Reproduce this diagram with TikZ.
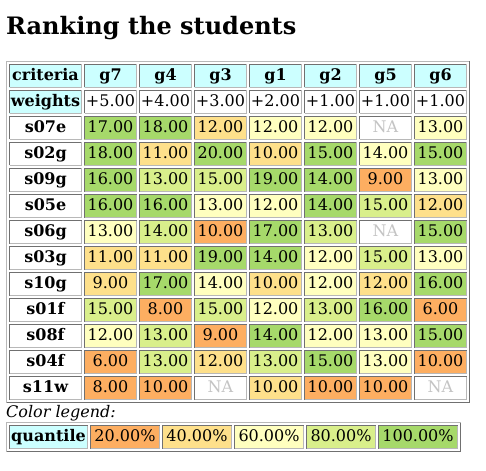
\documentclass[tikz,border=0pt]{standalone}
\usepackage{fontspec}
\setmainfont{DejaVu Serif}
\definecolor{rank-orange}{RGB}{253, 174, 97}
\definecolor{rank-sand}{RGB}{254, 224, 139}
\definecolor{rank-cream}{RGB}{255, 255, 191}
\definecolor{rank-lime}{RGB}{217, 239, 139}
\definecolor{rank-green}{RGB}{166, 217, 106}
\definecolor{head-cyan}{RGB}{204, 255, 255}
\definecolor{edge-dark}{RGB}{112, 112, 112}
\definecolor{edge-light}{RGB}{184, 184, 184}
\definecolor{na-gray}{RGB}{196, 196, 196}

\begin{document}
\begin{tikzpicture}[x=1pt, y=-1pt,
  every node/.style={inner sep=0pt, font=\fontsize{16pt}{19pt}\selectfont},
  inset/.style={path picture={
    \draw[line width=1pt, draw=edge-dark] ([shift={(.5pt,.5pt)}]path picture bounding box.south west) |- ([shift={(-.5pt,-.5pt)}]path picture bounding box.north east);
    \draw[line width=1pt, draw=edge-light] ([shift={(.5pt,.5pt)}]path picture bounding box.south west) -| ([shift={(-.5pt,-.5pt)}]path picture bounding box.north east);}},
  cell/.style={inset, fill=white, minimum width=53pt, minimum height=24pt, text height=12pt, text depth=3pt},
  rowhead/.style={cell, minimum width=73pt, font=\fontsize{16pt}{19pt}\selectfont\bfseries},
  colhead/.style={cell, fill=head-cyan, font=\fontsize{16pt}{19pt}\selectfont\bfseries},
  r20/.style={cell, fill=rank-orange},
  r40/.style={cell, fill=rank-sand},
  r60/.style={cell, fill=rank-cream},
  r80/.style={cell, fill=rank-lime},
  r100/.style={cell, fill=rank-green},
  na/.style={cell, text=na-gray}]
\useasboundingbox (0,0) rectangle (486,470);
\node[anchor=base west, font=\fontsize{24pt}{29pt}\selectfont\bfseries] (title) at (6,35) {Ranking the students};
% table frame
\draw[line width=1pt, draw=edge-light] (6.5,402.5) |- (469.5,61.5);
\draw[line width=1pt, draw=edge-dark] (6.5,402.5) -| (469.5,61.5);
% header rows
\node[rowhead, fill=head-cyan] (criteria) at (45.5,76) {criteria};
\node[colhead] (head-g7) at (110.5,76) {g7};
\node[colhead] (head-g4) at (165.5,76) {g4};
\node[colhead] (head-g3) at (220.5,76) {g3};
\node[colhead] (head-g1) at (275.5,76) {g1};
\node[colhead] (head-g2) at (330.5,76) {g2};
\node[colhead] (head-g5) at (385.5,76) {g5};
\node[colhead] (head-g6) at (440.5,76) {g6};
\node[rowhead, fill=head-cyan] (weights) at (45.5,102) {weights};
\node[cell] (w-g7) at (110.5,102) {+5.00};
\node[cell] (w-g4) at (165.5,102) {+4.00};
\node[cell] (w-g3) at (220.5,102) {+3.00};
\node[cell] (w-g1) at (275.5,102) {+2.00};
\node[cell] (w-g2) at (330.5,102) {+1.00};
\node[cell] (w-g5) at (385.5,102) {+1.00};
\node[cell] (w-g6) at (440.5,102) {+1.00};
% students
\node[rowhead] (s07e) at (45.5,128) {s07e};
\node[r100] (s07e-g7) at (110.5,128) {17.00};
\node[r100] (s07e-g4) at (165.5,128) {18.00};
\node[r40] (s07e-g3) at (220.5,128) {12.00};
\node[r60] (s07e-g1) at (275.5,128) {12.00};
\node[r60] (s07e-g2) at (330.5,128) {12.00};
\node[na] (s07e-g5) at (385.5,128) {NA};
\node[r60] (s07e-g6) at (440.5,128) {13.00};
\node[rowhead] (s02g) at (45.5,154) {s02g};
\node[r100] (s02g-g7) at (110.5,154) {18.00};
\node[r40] (s02g-g4) at (165.5,154) {11.00};
\node[r100] (s02g-g3) at (220.5,154) {20.00};
\node[r40] (s02g-g1) at (275.5,154) {10.00};
\node[r100] (s02g-g2) at (330.5,154) {15.00};
\node[r60] (s02g-g5) at (385.5,154) {14.00};
\node[r100] (s02g-g6) at (440.5,154) {15.00};
\node[rowhead] (s09g) at (45.5,180) {s09g};
\node[r100] (s09g-g7) at (110.5,180) {16.00};
\node[r80] (s09g-g4) at (165.5,180) {13.00};
\node[r80] (s09g-g3) at (220.5,180) {15.00};
\node[r100] (s09g-g1) at (275.5,180) {19.00};
\node[r100] (s09g-g2) at (330.5,180) {14.00};
\node[r20] (s09g-g5) at (385.5,180) {9.00};
\node[r60] (s09g-g6) at (440.5,180) {13.00};
\node[rowhead] (s05e) at (45.5,206) {s05e};
\node[r100] (s05e-g7) at (110.5,206) {16.00};
\node[r100] (s05e-g4) at (165.5,206) {16.00};
\node[r60] (s05e-g3) at (220.5,206) {13.00};
\node[r60] (s05e-g1) at (275.5,206) {12.00};
\node[r100] (s05e-g2) at (330.5,206) {14.00};
\node[r80] (s05e-g5) at (385.5,206) {15.00};
\node[r40] (s05e-g6) at (440.5,206) {12.00};
\node[rowhead] (s06g) at (45.5,232) {s06g};
\node[r60] (s06g-g7) at (110.5,232) {13.00};
\node[r80] (s06g-g4) at (165.5,232) {14.00};
\node[r20] (s06g-g3) at (220.5,232) {10.00};
\node[r100] (s06g-g1) at (275.5,232) {17.00};
\node[r80] (s06g-g2) at (330.5,232) {13.00};
\node[na] (s06g-g5) at (385.5,232) {NA};
\node[r100] (s06g-g6) at (440.5,232) {15.00};
\node[rowhead] (s03g) at (45.5,258) {s03g};
\node[r40] (s03g-g7) at (110.5,258) {11.00};
\node[r40] (s03g-g4) at (165.5,258) {11.00};
\node[r100] (s03g-g3) at (220.5,258) {19.00};
\node[r100] (s03g-g1) at (275.5,258) {14.00};
\node[r60] (s03g-g2) at (330.5,258) {12.00};
\node[r80] (s03g-g5) at (385.5,258) {15.00};
\node[r60] (s03g-g6) at (440.5,258) {13.00};
\node[rowhead] (s10g) at (45.5,284) {s10g};
\node[r40] (s10g-g7) at (110.5,284) {9.00};
\node[r100] (s10g-g4) at (165.5,284) {17.00};
\node[r60] (s10g-g3) at (220.5,284) {14.00};
\node[r40] (s10g-g1) at (275.5,284) {10.00};
\node[r60] (s10g-g2) at (330.5,284) {12.00};
\node[r40] (s10g-g5) at (385.5,284) {12.00};
\node[r100] (s10g-g6) at (440.5,284) {16.00};
\node[rowhead] (s01f) at (45.5,310) {s01f};
\node[r80] (s01f-g7) at (110.5,310) {15.00};
\node[r20] (s01f-g4) at (165.5,310) {8.00};
\node[r80] (s01f-g3) at (220.5,310) {15.00};
\node[r60] (s01f-g1) at (275.5,310) {12.00};
\node[r80] (s01f-g2) at (330.5,310) {13.00};
\node[r100] (s01f-g5) at (385.5,310) {16.00};
\node[r20] (s01f-g6) at (440.5,310) {6.00};
\node[rowhead] (s08f) at (45.5,336) {s08f};
\node[r60] (s08f-g7) at (110.5,336) {12.00};
\node[r80] (s08f-g4) at (165.5,336) {13.00};
\node[r20] (s08f-g3) at (220.5,336) {9.00};
\node[r100] (s08f-g1) at (275.5,336) {14.00};
\node[r60] (s08f-g2) at (330.5,336) {12.00};
\node[r60] (s08f-g5) at (385.5,336) {13.00};
\node[r100] (s08f-g6) at (440.5,336) {15.00};
\node[rowhead] (s04f) at (45.5,362) {s04f};
\node[r20] (s04f-g7) at (110.5,362) {6.00};
\node[r80] (s04f-g4) at (165.5,362) {13.00};
\node[r40] (s04f-g3) at (220.5,362) {12.00};
\node[r80] (s04f-g1) at (275.5,362) {13.00};
\node[r100] (s04f-g2) at (330.5,362) {15.00};
\node[r60] (s04f-g5) at (385.5,362) {13.00};
\node[r20] (s04f-g6) at (440.5,362) {10.00};
\node[rowhead] (s11w) at (45.5,388) {s11w};
\node[r20] (s11w-g7) at (110.5,388) {8.00};
\node[r20] (s11w-g4) at (165.5,388) {10.00};
\node[na] (s11w-g3) at (220.5,388) {NA};
\node[r40] (s11w-g1) at (275.5,388) {10.00};
\node[r20] (s11w-g2) at (330.5,388) {10.00};
\node[r20] (s11w-g5) at (385.5,388) {10.00};
\node[na] (s11w-g6) at (440.5,388) {NA};
% legend
\node[anchor=base west, font=\fontsize{16pt}{19pt}\selectfont\itshape] (legend) at (6,417) {Color legend:};
\draw[line width=1pt, draw=edge-light] (6.5,451.5) |- (460.5,422.5);
\draw[line width=1pt, draw=edge-dark] (6.5,451.5) -| (460.5,422.5);
\node[rowhead, fill=head-cyan, minimum width=79pt] (quantile) at (48.5,437) {quantile};
\node[r20, minimum width=70pt] (q20) at (125,437) {20.00\%};
\node[r40, minimum width=70pt] (q40) at (197,437) {40.00\%};
\node[r60, minimum width=70pt] (q60) at (269,437) {60.00\%};
\node[r80, minimum width=70pt] (q80) at (341,437) {80.00\%};
\node[r100, minimum width=80pt] (q100) at (418,437) {100.00\%};
\end{tikzpicture}
\end{document}
